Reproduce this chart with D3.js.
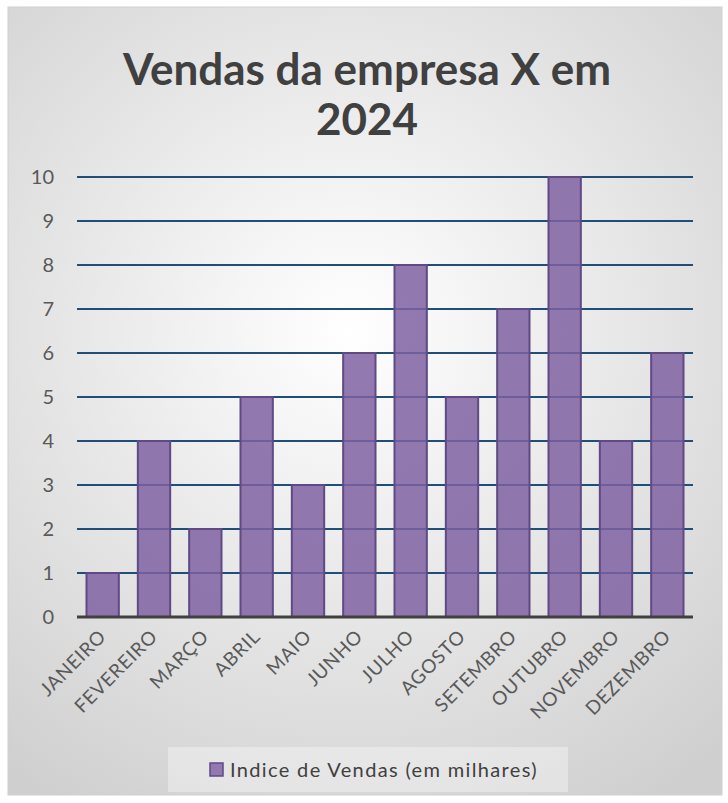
<!DOCTYPE html>
<html>
<head>
<meta charset="utf-8">
<script src="https://cdn.jsdelivr.net/npm/d3@7"></script>
<style>
  body { margin: 0; background: #fff; }
  svg { display: block; font-family: Lato, "Open Sans", sans-serif; }
</style>
</head>
<body>
<svg width="728" height="803"></svg>
<script>
const width = 728;
const height = 803;

const months = ["JANEIRO", "FEVEREIRO", "MARÇO", "ABRIL", "MAIO", "JUNHO",
    "JULHO", "AGOSTO", "SETEMBRO", "OUTUBRO", "NOVEMBRO", "DEZEMBRO"];
const vendas = [1, 4, 2, 5, 3, 6, 8, 5, 7, 10, 4, 6];
const yTicks = [0, 1, 2, 3, 4, 5, 6, 7, 8, 9, 10];
const titleLines = ["Vendas da empresa X em", "2024"];
const seriesName = "Indice de Vendas (em milhares)";

const plot = { left: 77, right: 693, top: 177, bottom: 617 };

const svg = d3.select("svg");

// fundo com gradiente radial
const defs = svg.append("defs");
const grad = defs.append("radialGradient")
    .attr("id", "bg")
    .attr("gradientUnits", "userSpaceOnUse")
    .attr("cx", 350).attr("cy", 330).attr("r", 560);
grad.append("stop").attr("offset", "0%").attr("stop-color", "#ffffff");
grad.append("stop").attr("offset", "100%").attr("stop-color", "#cfcfcf");

svg.append("rect")
    .attr("x", 8).attr("y", 7)
    .attr("width", 714).attr("height", 788)
    .attr("fill", "url(#bg)")
    .attr("stroke", "#d0d0d0");

// título
svg.append("g")
    .selectAll("text")
    .data(titleLines)
    .join("text")
    .attr("x", 367)
    .attr("y", (d, i) => 85 + i * 50)
    .attr("text-anchor", "middle")
    .attr("font-size", 44)
    .attr("font-weight", "bold")
    .attr("fill", "#404040")
    .text((d) => d);

const x = d3.scaleBand().domain(months).range([plot.left, plot.right]).paddingInner(0.37).paddingOuter(0.185);
const y = d3.scaleLinear().domain([0, 10]).range([plot.bottom, plot.top]);

// linhas de grade
svg.append("g")
    .selectAll("line")
    .data(yTicks.filter((d) => d > 0))
    .join("line")
    .attr("x1", plot.left).attr("x2", plot.right)
    .attr("y1", (d) => y(d)).attr("y2", (d) => y(d))
    .attr("stroke", "#1f4e79")
    .attr("stroke-width", 2);

// barras
svg.append("g")
    .selectAll("rect")
    .data(vendas)
    .join("rect")
    .attr("x", (d, i) => x(months[i]))
    .attr("y", (d) => y(d))
    .attr("width", x.bandwidth())
    .attr("height", (d) => y(0) - y(d))
    .attr("fill", "#7f62a2")
    .attr("fill-opacity", 0.85)
    .attr("stroke", "#5f4a85")
    .attr("stroke-width", 2);

// eixo zero
svg.append("line")
    .attr("x1", plot.left).attr("x2", plot.right)
    .attr("y1", y(0)).attr("y2", y(0))
    .attr("stroke", "#404040")
    .attr("stroke-width", 3);

// rótulos do eixo y
const yAxis = d3.axisLeft(y).tickValues(yTicks).tickSize(0).tickPadding(0);
const yG = svg.append("g")
    .attr("transform", `translate(${plot.left - 23}, 0)`)
    .call(yAxis);
yG.select(".domain").remove();
yG.selectAll("text")
    .attr("font-family", "Lato, sans-serif")
    .attr("font-size", 20)
    .attr("fill", "#595959");

// rótulos do eixo x
svg.append("g")
    .selectAll("text")
    .data(months)
    .join("text")
    .attr("transform", (d) => `translate(${x(d) + x.bandwidth() / 2}, ${plot.bottom + 16}) rotate(-45)`)
    .attr("text-anchor", "end")
    .attr("dy", "0.35em")
    .attr("font-size", 19)
    .attr("letter-spacing", 0.8)
    .attr("fill", "#595959")
    .text((d) => d);

// legenda
const legend = svg.append("g");
legend.append("rect")
    .attr("x", 168).attr("y", 747)
    .attr("width", 400).attr("height", 45)
    .attr("fill", "#ffffff")
    .attr("fill-opacity", 0.35);
legend.append("rect")
    .attr("x", 210).attr("y", 763)
    .attr("width", 13).attr("height", 13)
    .attr("fill", "#9279b0")
    .attr("stroke", "#5f4a85")
    .attr("stroke-width", 1.5);
legend.append("text")
    .attr("x", 230).attr("y", 777)
    .attr("font-size", 20)
    .attr("letter-spacing", 1.35)
    .attr("fill", "#404040")
    .text(seriesName);
</script>
</body>
</html>
